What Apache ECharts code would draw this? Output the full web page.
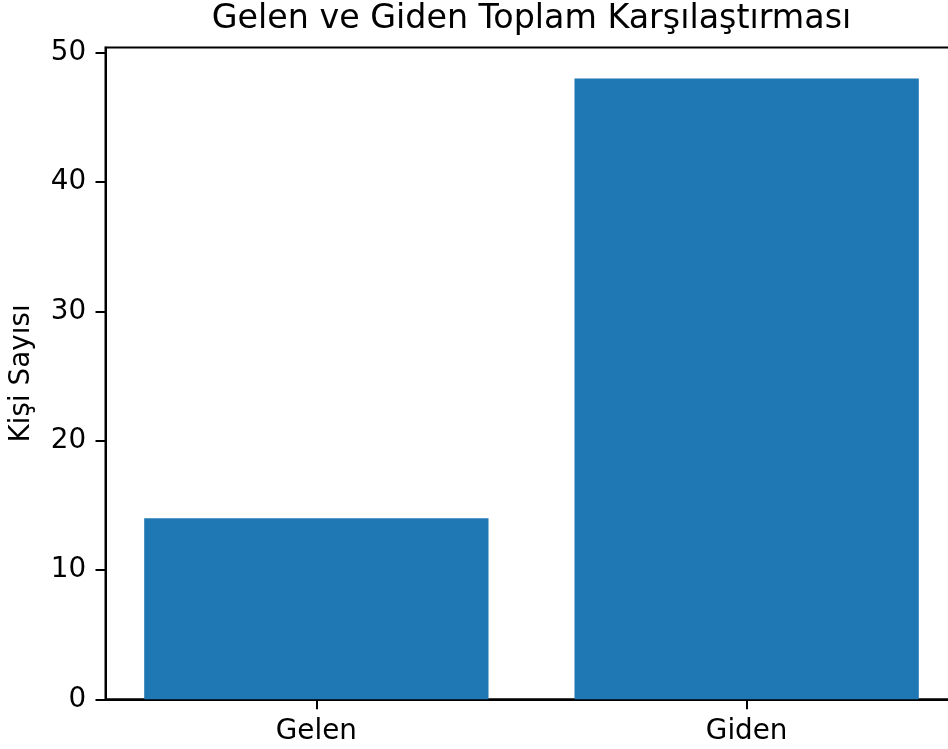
<!DOCTYPE html>
<html>
<head>
<meta charset="utf-8">
<script src="https://cdn.jsdelivr.net/npm/echarts@6/dist/echarts.min.js"></script>
<style>
html,body{margin:0;padding:0;background:#fff;}
#chart{width:948px;height:749px;}
</style>
</head>
<body>
<div id="chart"></div>
<script>
const categories = ['Gelen', 'Giden'];
const values = [14, 48];
const yTicks = [0, 10, 20, 30, 40, 50];
const titleText = 'Gelen ve Giden Toplam Karşılaştırması';
const yName = 'Kişi Sayısı';

const FONT = 'DejaVu Sans';
const chart = echarts.init(document.getElementById('chart'), null, {renderer: 'canvas'});
const xPositions = categories.map((c, i) => i);
const barData = values.map((v, i) => [xPositions[i], v]);

chart.setOption({
  animation: false,
  backgroundColor: '#fff',
  title: {
    text: titleText,
    left: 531.5,
    top: 2.5,
    padding: 0,
    textAlign: 'center',
    textStyle: {fontFamily: FONT, fontSize: 33.3, fontWeight: 'normal', color: '#000'}
  },
  grid: {
    left: 105.5, top: 47.5, width: 852, height: 651.8,
    containLabel: false,
    outerBoundsMode: 'none',
    show: true, borderColor: '#000', borderWidth: 2, backgroundColor: 'transparent'
  },
  xAxis: {
    type: 'value',
    min: -0.49, max: 1.49,
    splitLine: {show: false},
    axisLine: {show: true, onZero: false, lineStyle: {color: '#000', width: 2}},
    axisTick: {show: true, length: 10, lineStyle: {color: '#000', width: 2}, customValues: xPositions},
    axisLabel: {
      customValues: xPositions,
      margin: 18,
      fontFamily: FONT, fontSize: 27.8, color: '#000',
      formatter: v => categories[Math.round(v)]
    }
  },
  yAxis: {
    type: 'value',
    min: 0, max: 50.4,
    name: yName,
    nameLocation: 'middle',
    nameGap: 70,
    nameTextStyle: {fontFamily: FONT, fontSize: 27.8, color: '#000'},
    splitLine: {show: false},
    axisLine: {show: true, onZero: false, lineStyle: {color: '#000', width: 2}},
    axisTick: {show: true, length: 10, lineStyle: {color: '#000', width: 2}, customValues: yTicks},
    axisLabel: {
      customValues: yTicks,
      margin: 19.4,
      fontFamily: FONT, fontSize: 27.8, color: '#000'
    }
  },
  series: [{
    type: 'bar',
    data: barData,
    barWidth: 344.3,
    itemStyle: {color: '#1f77b4'}
  }]
});
</script>
</body>
</html>
